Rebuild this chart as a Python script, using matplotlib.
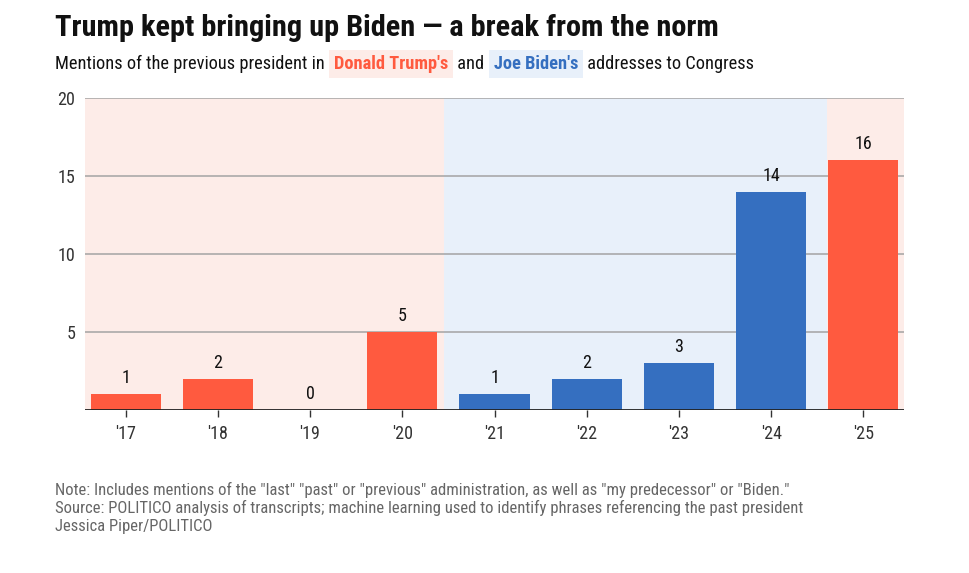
import matplotlib.pyplot as plt
import numpy as np
from matplotlib import font_manager as fm

years = ["'17", "'18", "'19", "'20", "'21", "'22", "'23", "'24", "'25"]
mentions = [1, 2, 0, 5, 1, 2, 3, 14, 16]
president = ["trump", "trump", "trump", "trump", "biden", "biden", "biden", "biden", "trump"]
# background bands (start, end in bar-index units, party)
bands = [(-0.44, 3.45, "trump"), (3.45, 7.61, "biden"), (7.61, 8.44, "trump")]
yticks = [5, 10, 15, 20]

BAR = {"trump": "#ff5a3f", "biden": "#356fc0"}
BG = {"trump": "#fdece8", "biden": "#e8f0fa"}


def find_font(bold):
    """Pick a narrow font file if one is installed."""
    want = 700 if bold else 400
    prefs = ["Roboto Condensed", "Liberation Sans Narrow", "Open Sans Condensed",
             "DejaVu Sans"]
    for name in prefs:
        for f in fm.fontManager.ttflist:
            if f.name != name:
                continue
            if name == "DejaVu Sans" and f.stretch != "condensed":
                continue
            w = f.weight if isinstance(f.weight, int) else (700 if "bold" in str(f.weight) else 400)
            if abs(w - want) < 150 and f.style == "normal":
                return f.fname, name
    return None, None


reg_file, reg_name = find_font(False)
bold_file, _ = find_font(True)
REG = fm.FontProperties(fname=reg_file) if reg_file else fm.FontProperties(family="DejaVu Sans")
BOLD = fm.FontProperties(fname=bold_file) if bold_file else fm.FontProperties(family="DejaVu Sans", weight="bold")


def fp(base, size):
    p = base.copy()
    p.set_size(size)
    return p


fig = plt.figure(figsize=(9.69, 5.73), dpi=100)
ax = fig.add_axes([85 / 969, 1 - 410 / 573, (904 - 85) / 969, (410 - 98) / 573])

x = np.arange(len(years))
for start, end, who in bands:
    ax.axvspan(start, end, color=BG[who], zorder=0, lw=0)

for v in yticks:
    ax.axhline(v, color="#a3a3a3", lw=1.1, zorder=1)

ax.bar(x, mentions, width=0.76, color=[BAR[p] for p in president], zorder=2)
ax.axhline(0, color="#222222", lw=1.3, zorder=3)

for xi, v in zip(x, mentions):
    ax.annotate(str(v), (xi, v), xytext=(0, 5), textcoords="offset points",
                ha="center", va="bottom", fontproperties=fp(REG, 13),
                color="#111111", zorder=4)

ax.set_xlim(-0.44, 8.44)
ax.set_ylim(0, 20)
ax.set_xticks(x, years)
ax.set_yticks(yticks)
ax.tick_params(axis="x", length=5, width=1, color="#333333",
               labelcolor="#333333", pad=6)
ax.tick_params(axis="y", length=0, labelcolor="#333333", pad=7)
for lab in ax.get_xticklabels() + ax.get_yticklabels():
    lab.set_fontproperties(fp(REG, 13))
for s in ax.spines.values():
    s.set_visible(False)

# title and subtitle
fig.text(55 / 969, 1 - 36 / 573, "Trump kept bringing up Biden \u2014 a break from the norm",
         fontproperties=fp(BOLD, 21.9), color="#111111", va="baseline")

renderer = fig.canvas.get_renderer()
sub_y = 1 - 69 / 573
pieces = [
    ("Mentions of the previous president in ", None, "#111111"),
    ("Donald Trump's", "trump", BAR["trump"]),
    (" and ", None, "#111111"),
    ("Joe Biden's", "biden", BAR["biden"]),
    (" addresses to Congress", None, "#111111"),
]
cur = 55 / 969
for txt, who, col in pieces:
    kw = {}
    if who:
        kw = dict(bbox=dict(boxstyle="square,pad=0.25", fc=BG[who], ec="none"))
    t = fig.text(cur, sub_y, txt, fontproperties=fp(BOLD if who else REG, 13.2),
                 color=col, va="baseline", **kw)
    w = t.get_window_extent(renderer).width
    if who:
        t.set_x(cur + 5 / 969)
        w += 10
    cur += w / 969

notes = [
    'Note: Includes mentions of the "last" "past" or "previous" administration, as well as "my predecessor" or "Biden."',
    "Source: POLITICO analysis of transcripts; machine learning used to identify phrases referencing the past president",
    "Jessica Piper/POLITICO",
]
for i, line in enumerate(notes):
    fig.text(55 / 969, 1 - (495 + i * 18) / 573, line, fontproperties=fp(REG, 12),
             color="#666666", va="baseline")

fig.savefig("out.png", dpi=100)
